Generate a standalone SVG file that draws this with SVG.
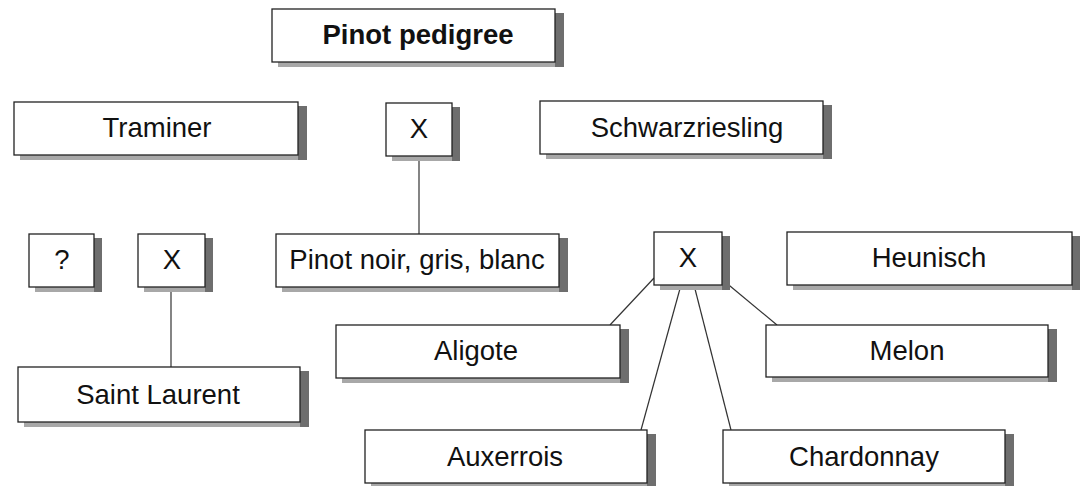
<svg xmlns="http://www.w3.org/2000/svg" width="1083" height="486" viewBox="0 0 1083 486">
<style>
.bx{fill:#fff;stroke:#222;stroke-width:1.3}
.shr{fill:#6e6e6e}
.shb{fill:#a8a8a8}
.t{font-family:"Liberation Sans",Arial,sans-serif;font-size:27.5px;fill:#111;text-anchor:middle}
.b{font-weight:bold;font-size:27.5px}
.ln{stroke:#333;stroke-width:1.2;fill:none}
</style>
<rect width="1083" height="486" fill="#fff"/>
<g id="connectors">
<line class="ln" x1="419" y1="156" x2="419" y2="234"/>
<line class="ln" x1="171" y1="287" x2="171" y2="367"/>
<line class="ln" x1="654" y1="278" x2="610" y2="325"/>
<line class="ln" x1="681" y1="285" x2="641" y2="430"/>
<line class="ln" x1="694" y1="285" x2="731" y2="430"/>
<line class="ln" x1="724" y1="281" x2="777" y2="325"/>
</g>
<g id="pedigree"><rect class="shb" x="278" y="62" width="285" height="5"/><rect class="shr" x="555" y="13" width="9" height="54"/><rect class="bx" x="272" y="9" width="283" height="53"/><text class="t b" x="418" y="44">Pinot pedigree</text></g>
<g id="traminer"><rect class="shb" x="20" y="155" width="286" height="5"/><rect class="shr" x="298" y="106" width="9" height="54"/><rect class="bx" x="14" y="102" width="284" height="53"/><text class="t" x="157" y="137">Traminer</text></g>
<g id="x1"><rect class="shb" x="392" y="156" width="68" height="5"/><rect class="shr" x="452" y="107" width="8" height="54"/><rect class="bx" x="386" y="103" width="66" height="53"/><text class="t" x="419" y="138">X</text></g>
<g id="schwarzriesling"><rect class="shb" x="546" y="154" width="285" height="5"/><rect class="shr" x="823" y="105" width="9" height="54"/><rect class="bx" x="540" y="101" width="283" height="53"/><text class="t" x="687" y="137">Schwarzriesling</text></g>
<g id="q"><rect class="shb" x="35" y="287" width="67" height="5"/><rect class="shr" x="94" y="238" width="8" height="54"/><rect class="bx" x="29" y="234" width="65" height="53"/><text class="t" x="62" y="269">?</text></g>
<g id="x2"><rect class="shb" x="144" y="287" width="69" height="5"/><rect class="shr" x="205" y="238" width="8" height="54"/><rect class="bx" x="138" y="234" width="67" height="53"/><text class="t" x="172" y="269">X</text></g>
<g id="pinotnoir"><rect class="shb" x="282" y="287" width="285" height="5"/><rect class="shr" x="559" y="238" width="9" height="54"/><rect class="bx" x="276" y="234" width="283" height="53"/><text class="t" x="417" y="269">Pinot noir, gris, blanc</text></g>
<g id="x3"><rect class="shb" x="660" y="285" width="70" height="5"/><rect class="shr" x="722" y="236" width="8" height="54"/><rect class="bx" x="654" y="232" width="68" height="53"/><text class="t" x="688" y="267">X</text></g>
<g id="heunisch"><rect class="shb" x="793" y="285" width="287" height="5"/><rect class="shr" x="1072" y="236" width="8" height="54"/><rect class="bx" x="787" y="232" width="285" height="53"/><text class="t" x="929" y="267">Heunisch</text></g>
<g id="aligote"><rect class="shb" x="342" y="378" width="286" height="5"/><rect class="shr" x="620" y="329" width="9" height="54"/><rect class="bx" x="336" y="325" width="284" height="53"/><text class="t" x="476" y="360">Aligote</text></g>
<g id="melon"><rect class="shb" x="772" y="377" width="284" height="5"/><rect class="shr" x="1048" y="329" width="9" height="53"/><rect class="bx" x="766" y="325" width="282" height="52"/><text class="t" x="907" y="360">Melon</text></g>
<g id="saintlaurent"><rect class="shb" x="24" y="422" width="284" height="5"/><rect class="shr" x="300" y="371" width="9" height="56"/><rect class="bx" x="18" y="367" width="282" height="55"/><text class="t" x="158" y="404">Saint Laurent</text></g>
<g id="auxerrois"><rect class="shb" x="371" y="483" width="284" height="3"/><rect class="shr" x="647" y="434" width="9" height="52"/><rect class="bx" x="365" y="430" width="282" height="53"/><text class="t" x="505" y="466">Auxerrois</text></g>
<g id="chardonnay"><rect class="shb" x="729" y="483" width="284" height="3"/><rect class="shr" x="1005" y="434" width="9" height="52"/><rect class="bx" x="723" y="430" width="282" height="53"/><text class="t" x="864" y="466">Chardonnay</text></g>
</svg>
